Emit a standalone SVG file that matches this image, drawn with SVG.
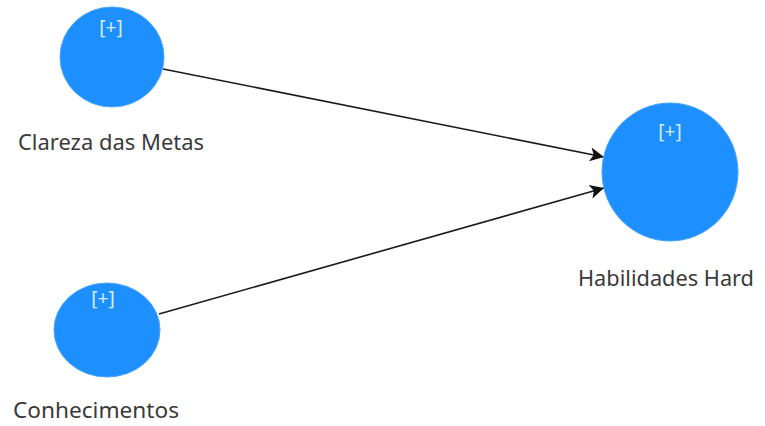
<svg xmlns="http://www.w3.org/2000/svg" width="765" height="426" viewBox="0 0 765 426">
  <style>
    .node { fill: #1e8fff; stroke: #4aa6ff; stroke-width: 1; }
    .plus { font-family: "Noto Sans", "DejaVu Sans", sans-serif; font-size: 19px; fill: #d6ecff; text-anchor: middle; }
    .label { font-family: "Noto Sans", "DejaVu Sans", sans-serif; font-size: 21px; fill: #3a3a3a; text-anchor: middle; }
    .edge { stroke: #1a1a1a; stroke-width: 1.6; fill: none; marker-end: url(#arrow); }
  </style>
  <defs>
    <marker id="arrow" viewBox="0 0 10 10" refX="10" refY="5" markerWidth="17" markerHeight="14" markerUnits="userSpaceOnUse" orient="auto">
      <path d="M0,0 L10,5 L0,10 L2.5,5 z" fill="#111"/>
    </marker>
  </defs>
  <rect width="765" height="426" fill="#ffffff"/>

  <g id="connectors">
    <line class="edge" x1="163" y1="69" x2="604" y2="157"/>
    <line class="edge" x1="159" y1="314" x2="604" y2="188"/>
  </g>

  <g id="clareza-das-metas">
    <ellipse class="node" cx="112" cy="57" rx="52" ry="50"/>
    <text class="plus" x="111" y="34">[+]</text>
    <text class="label" x="111" y="150" textLength="186" lengthAdjust="spacingAndGlyphs">Clareza das Metas</text>
  </g>

  <g id="conhecimentos">
    <ellipse class="node" cx="107" cy="330" rx="53" ry="47"/>
    <text class="plus" x="103" y="305">[+]</text>
    <text class="label" x="96" y="418" textLength="166" lengthAdjust="spacingAndGlyphs">Conhecimentos</text>
  </g>

  <g id="habilidades-hard">
    <ellipse class="node" cx="670" cy="172" rx="68" ry="69"/>
    <text class="plus" x="670" y="138">[+]</text>
    <text class="label" x="666" y="286" textLength="176" lengthAdjust="spacingAndGlyphs">Habilidades Hard</text>
  </g>
</svg>
